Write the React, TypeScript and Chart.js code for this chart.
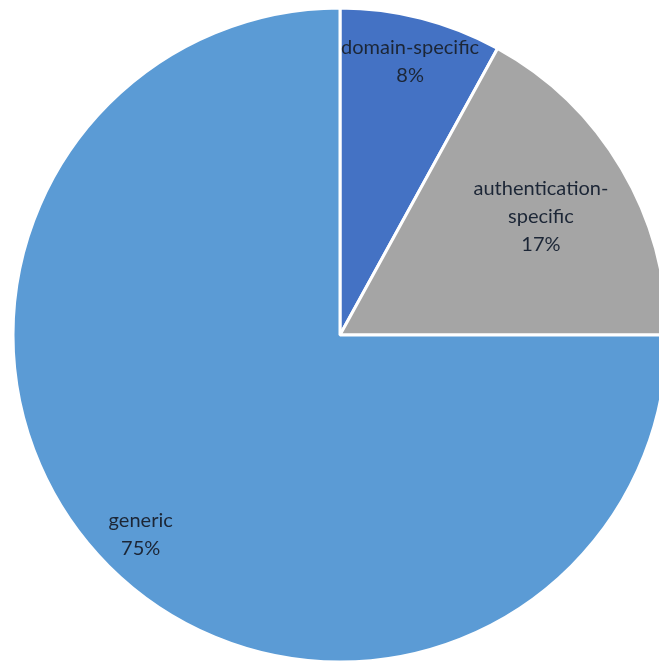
import React, { useEffect, useRef } from "react";
import { Chart, registerables } from "chart.js";

Chart.register(...registerables);

const categories = ["domain-specific", "authentication-specific", "generic"];
const shares = [8, 17, 75];
const labelLines = [["domain-specific"], ["authentication-", "specific"], ["generic"]];
const sliceColors = ["#4472C4", "#A5A5A5", "#5B9BD5"];

const labelPlugin = {
  id: "sliceLabels",
  afterDatasetsDraw(chart: any) {
    const { ctx } = chart;
    const meta = chart.getDatasetMeta(0);
    const fractions = [0.862, 0.714, 0.862];
    ctx.save();
    ctx.font = "20px Lato";
    ctx.fillStyle = "#1c2636";
    ctx.textAlign = "center";
    ctx.textBaseline = "middle";
    meta.data.forEach((arc: any, i: number) => {
      const { startAngle, endAngle, outerRadius, x, y } = arc.getProps(
        ["startAngle", "endAngle", "outerRadius", "x", "y"],
        true
      );
      const mid = (startAngle + endAngle) / 2;
      const r = outerRadius * fractions[i];
      const cx = x + Math.cos(mid) * r;
      const cy = y + Math.sin(mid) * r;
      const lines = [...labelLines[i], shares[i] + "%"];
      const lh = 28;
      const top = cy - ((lines.length - 1) * lh) / 2;
      lines.forEach((t, j) => ctx.fillText(t, cx, top + j * lh));
    });
    ctx.restore();
  },
};

export default function App() {
  const ref = useRef<HTMLCanvasElement | null>(null);
  useEffect(() => {
    if (!ref.current) return;
    const chart = new Chart(ref.current, {
      type: "pie",
      data: {
        labels: categories,
        datasets: [
          {
            data: shares,
            backgroundColor: sliceColors,
            borderColor: "#ffffff",
            borderWidth: 3,
          },
        ],
      },
      options: {
        responsive: false,
        animation: false,
        devicePixelRatio: 1,
        radius: 327,
        layout: { padding: 0 },
        plugins: { legend: { display: false }, tooltip: { enabled: false } },
      } as any,
      plugins: [labelPlugin],
    });
    return () => chart.destroy();
  }, []);
  return (
    <div
      style={{
        position: "fixed",
        left: 0,
        top: 0,
        width: 659,
        height: 661,
        overflow: "hidden",
        background: "#fff",
      }}
    >
      <canvas
        ref={ref}
        width={680}
        height={670}
        style={{ position: "absolute", left: 0, top: 0, width: 680, height: 670 }}
      />
    </div>
  );
}
